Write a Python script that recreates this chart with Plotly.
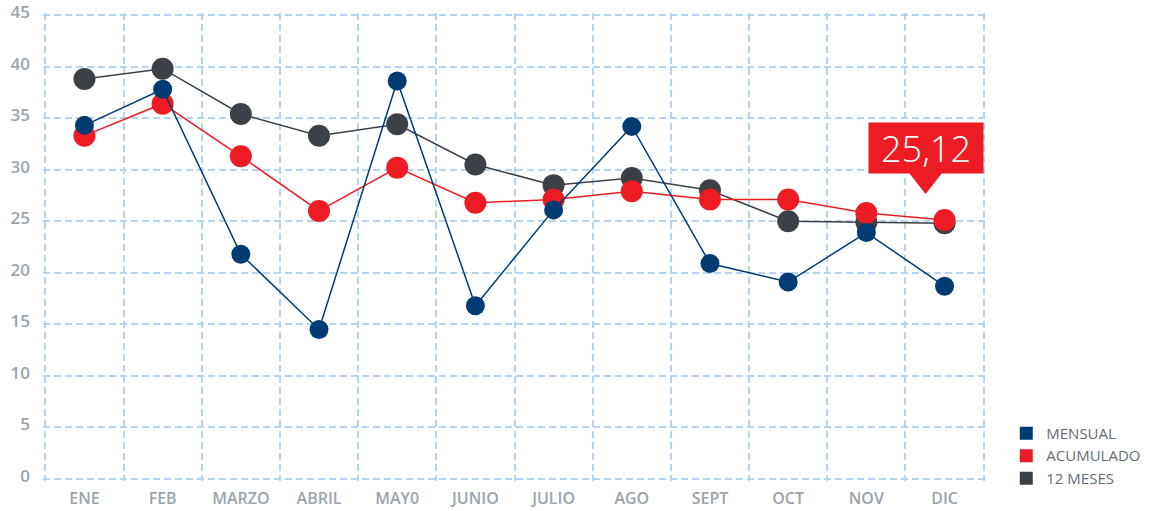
import plotly.graph_objects as go

# Month labels on the category axis
meses = ["ENE", "FEB", "MARZO", "ABRIL", "MAY0", "JUNIO",
         "JULIO", "AGO", "SEPT", "OCT", "NOV", "DIC"]

# Series values (%)
mensual = [34.3, 37.8, 21.8, 14.5, 38.6, 16.8, 26.1, 34.2, 20.9, 19.1, 23.9, 18.7]
acumulado = [33.3, 36.4, 31.3, 26.0, 30.2, 26.8, 27.1, 27.9, 27.1, 27.1, 25.8, 25.12]
doce_meses = [38.8, 39.8, 35.4, 33.3, 34.4, 30.5, 28.5, 29.2, 28.0, 25.0, 24.9, 24.8]

# Highlighted value in the callout
destacado_mes = "DIC"
destacado_valor = acumulado[meses.index(destacado_mes)]

AZUL = "#003b73"
ROJO = "#ed1c24"
GRIS = "#3c4047"
TEXTO = "#9aa4ab"
REJILLA = "#b3d5f2"
FUENTE = "Open Sans, Lato, sans-serif"

fig = go.Figure()

# Drawing order: 12 MESES at the back, MENSUAL in front
series = [
    ("12 MESES", doce_meses, GRIS, 22, 3),
    ("ACUMULADO", acumulado, ROJO, 22, 2),
    ("MENSUAL", mensual, AZUL, 19, 1),
]
for nombre, valores, color, tam, rango in series:
    fig.add_trace(go.Scatter(
        x=meses, y=valores, name=nombre, mode="lines+markers",
        line=dict(color=color, width=1.5),
        marker=dict(color=color, size=tam),
        showlegend=False, hoverinfo="x+y+name",
    ))
    # square legend swatch
    fig.add_trace(go.Scatter(
        x=[None], y=[None], name=nombre, mode="markers",
        marker=dict(color=color, size=13, symbol="square"),
        legendrank=rango, showlegend=True,
    ))

# Callout label with a pointer below it
fig.add_annotation(
    x=destacado_mes, y=destacado_valor, xref="x", yref="y",
    text=f"{destacado_valor:.2f}".replace(".", ","),
    showarrow=False, xshift=-19, yshift=72,
    width=114, height=50, bgcolor=ROJO, borderpad=0,
    font=dict(family=FUENTE, size=36, color="white", weight=300),
    align="center", valign="middle",
)
fig.add_shape(
    type="path", xref="x", yref="y",
    xsizemode="pixel", ysizemode="pixel",
    xanchor=destacado_mes, yanchor=destacado_valor,
    path="M -37 49 L -1 49 L -19 26 Z",
    fillcolor=ROJO, line=dict(width=0),
)

grid = dict(showgrid=True, gridcolor=REJILLA, griddash="7px,4px", gridwidth=1.5,
            showline=False, zeroline=False, ticks="")

# ranges padded slightly so the outer grid lines are kept
fig.update_xaxes(
    type="category", tickson="boundaries", range=[-0.53, 11.53],
    tickfont=dict(family=FUENTE, size=16, color=TEXTO, weight=600),
    ticklabelstandoff=6, **grid,
)
fig.update_yaxes(
    range=[-0.2, 45.2], tickvals=list(range(0, 46, 5)),
    tickfont=dict(family=FUENTE, size=17, color=TEXTO, weight=600),
    ticklabelstandoff=12, ticklabelshift=-3, ticklabeloverflow="allow",
    **grid,
)

fig.update_layout(
    width=1150, height=511,
    margin=dict(l=43, r=164, t=13, b=30, autoexpand=False),
    paper_bgcolor="white", plot_bgcolor="white",
    font=dict(family=FUENTE),
    legend=dict(
        x=1.0215, xanchor="left", y=0.137, yanchor="top",
        font=dict(family=FUENTE, size=15, color="#656d74"),
        tracegroupgap=0, itemwidth=30,
        bgcolor="rgba(0,0,0,0)",
    ),
)

fig.write_html("out.html")
